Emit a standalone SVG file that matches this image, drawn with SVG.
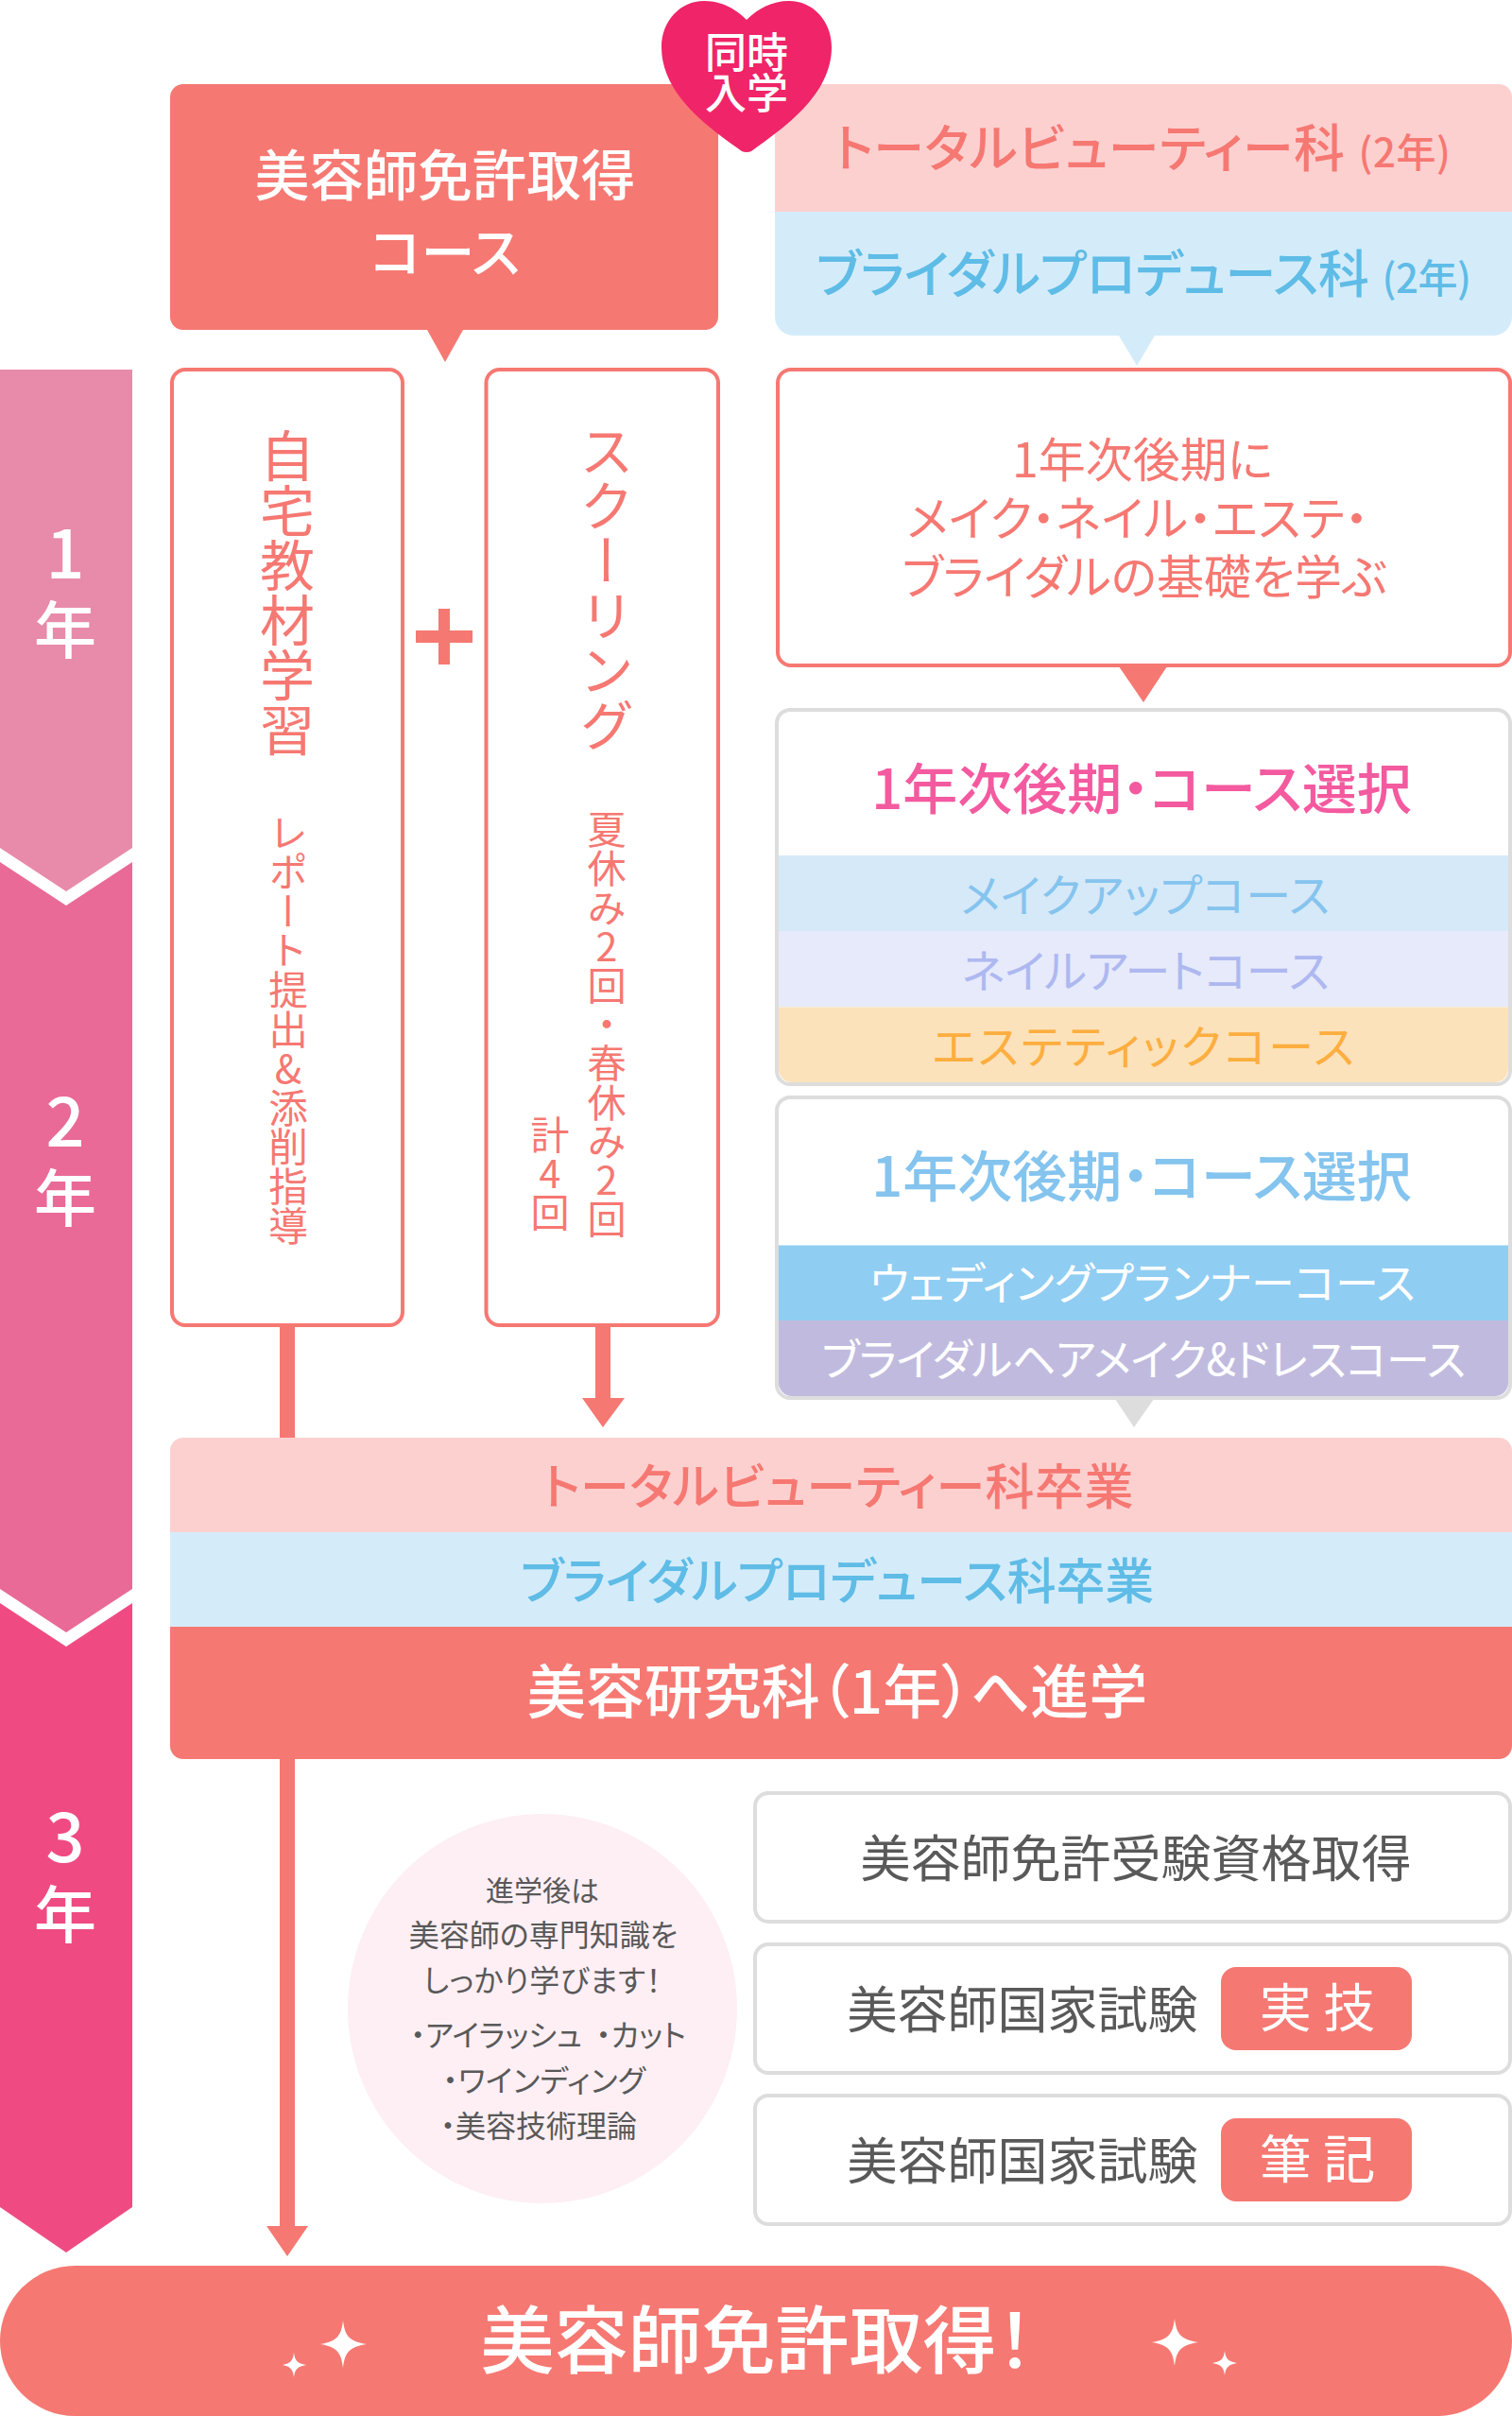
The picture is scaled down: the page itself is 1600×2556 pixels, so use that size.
<svg xmlns="http://www.w3.org/2000/svg" width="1600" height="2556" viewBox="0 0 1600 2556">
<style>
text{font-family:"Noto Sans CJK JP","Noto Sans",sans-serif;font-feature-settings:"palt";text-anchor:middle}
.m{font-weight:500}
.r{fill:#f67872}.w{fill:#fff}.b{fill:#5fbce6}.g{fill:#595959}
.red{fill:#f67872}.pp{fill:#fdd0d0}.pb{fill:#d4ecfa}
.box{fill:#fff;stroke:#f67872;stroke-width:4}
.gbox{fill:#fff;stroke:#ddd;stroke-width:4}
.v{writing-mode:vertical-rl;text-orientation:upright;font-feature-settings:normal;text-anchor:start;fill:#f67872}
.y{font-size:66px;fill:#fff}
.d{font-size:72px;fill:#fff}
.s{font-size:32px;fill:#595959}
.e{font-size:53px;fill:#595959}
</style>
<g id="year-bands">
<polygon points="0,391 140,391 140,897 70,943 0,897" fill="#e88aaa"/>
<polygon points="0,912 70,958 140,912 140,1681 70,1727 0,1681" fill="#e96a96"/>
<polygon points="0,1696 70,1742 140,1696 140,2335 70,2383 0,2335" fill="#ef4b82"/>
<text class="d m" x="69" y="612">1</text><text class="y m" x="69" y="691">年</text>
<text class="d m" x="69" y="1213">2</text><text class="y m" x="69" y="1292">年</text>
<text class="d m" x="69" y="1970">3</text><text class="y m" x="69" y="2050">年</text>
</g>
<g id="connectors">
<rect x="296" y="1402" width="16" height="119" fill="#f67872"/>
<rect x="630" y="1402" width="16" height="78" fill="#f67872"/>
<polygon points="616,1479 661,1479 638,1510" fill="#f67872"/>
<rect x="296" y="1861" width="16" height="495" fill="#f67872"/>
<polygon points="282,2355 326,2355 304,2387" fill="#f67872"/>
<polygon points="452,349 490,349 471,383" fill="#f67872"/>
<polygon points="1184,355 1222,355 1203,387" fill="#d4ecfa"/>
<polygon points="1184,705 1235,705 1210,743" fill="#f67872"/>
<polygon points="1180,1480 1221,1480 1200,1510" fill="#ddd"/>
<rect x="440" y="667" width="60" height="13" fill="#f67872"/>
<rect x="464" y="644" width="12" height="59" fill="#f67872"/>
</g>
<g id="license-course">
<rect x="180" y="89" width="580" height="260" rx="14" class="red"/>
<text class="m w" x="471" y="207" font-size="57.500">美容師免許取得</text>
<text class="m w" x="471" y="288" font-size="57">コース</text>
</g>
<g id="departments">
<path d="M834,89H1586a14,14 0 0 1 14,14V224H820V103a14,14 0 0 1 14,-14Z" class="pp"/>
<path d="M820,224H1600V335a20,20 0 0 1 -20,20H840a20,20 0 0 1 -20,-20Z" class="pb"/>
<text class="m r" x="1209" y="177" font-size="54" letter-spacing="0.500">トータルビューティー科<tspan font-size="42" dx="14">(2年)</tspan></text>
<text class="m b" x="1210" y="310" font-size="54" letter-spacing="-0.500">ブライダルプロデュース科<tspan font-size="42" dx="14">(2年)</tspan></text>
</g>
<g id="heart">
<path d="M790,161Q787,161 785,160C750,135 700,100 700,50C700,22 720,1 745,1C763,1 778,9 790,21C802,9 817,1 835,1C860,1 880,22 880,50C880,100 830,135 795,160Q793,161 790,161Z" fill="#f02468"/>
<text class="m w" x="790" y="72" font-size="44">同時</text>
<text class="m w" x="790" y="115" font-size="44">入学</text>
</g>
<g id="home-study">
<rect x="182" y="391" width="244" height="1011" rx="14" class="box"/>
<text class="v" x="304" y="453" font-size="58">自宅教材学習</text>
<text class="v" x="305" y="860" font-size="41.600">レポート提出&amp;添削指導</text>
</g>
<g id="schooling">
<rect x="514.500" y="391" width="245.500" height="1011" rx="14" class="box"/>
<text class="v" x="642" y="448" font-size="58">スクーリング</text>
<text class="v" x="642" y="857" font-size="41.200">夏休み2回・春休み2回</text>
<text class="v" x="582" y="1180" font-size="41">計4回</text>
</g>
<g id="basics">
<rect x="823" y="391" width="775" height="313" rx="14" class="box"/>
<text class="r" x="1209" y="505" font-size="50">1年次後期に</text>
<text class="r" x="1204" y="567" font-size="50" letter-spacing="0.500">メイク・ネイル・エステ・</text>
<text class="r" x="1211" y="629" font-size="50">ブライダルの基礎を学ぶ</text>
</g>
<g id="course-select-a">
<rect x="822" y="751" width="776" height="396" rx="14" class="gbox"/>
<rect x="824" y="905" width="772" height="80" fill="#d6e9f8"/>
<rect x="824" y="985" width="772" height="80.500" fill="#e6eafa"/>
<path d="M824,1065.500H1596V1131a14,14 0 0 1 -14,14H838a14,14 0 0 1 -14,-14Z" fill="#fce2ba"/>
<text class="m" x="1208" y="856" font-size="58" fill="#f45a9f">1年次後期・コース選択</text>
<text x="1212" y="965" font-size="48" letter-spacing="0.500" fill="#85c4ee">メイクアップコース</text>
<text x="1212" y="1045" font-size="48" letter-spacing="-0.500" fill="#aeb8f0">ネイルアートコース</text>
<text x="1211" y="1125" font-size="48" letter-spacing="2.400" fill="#fdae3f">エステティックコース</text>
</g>
<g id="course-select-b">
<rect x="822" y="1161" width="776" height="318" rx="14" class="gbox"/>
<rect x="824" y="1317.500" width="772" height="79.500" fill="#90cdf2"/>
<path d="M824,1397H1596V1463a14,14 0 0 1 -14,14H838a14,14 0 0 1 -14,-14Z" fill="#c0bbde"/>
<text class="m" x="1208" y="1266" font-size="58" fill="#84c4ee">1年次後期・コース選択</text>
<text class="w" x="1209" y="1374" font-size="46">ウェディングプランナーコース</text>
<text class="w" x="1210" y="1455" font-size="46" letter-spacing="-0.500">ブライダルヘアメイク&amp;ドレスコース</text>
</g>
<g id="graduation">
<path d="M194,1521H1586a14,14 0 0 1 14,14V1621H180V1535a14,14 0 0 1 14,-14Z" class="pp"/>
<rect x="180" y="1621" width="1420" height="100" class="pb"/>
<path d="M180,1721H1600V1847a14,14 0 0 1 -14,14H194a14,14 0 0 1 -14,-14Z" class="red"/>
<text class="m r" x="887" y="1592" font-size="52" letter-spacing="0.500">トータルビューティー科卒業</text>
<text class="m b" x="886" y="1692" font-size="52" letter-spacing="-0.200">ブライダルプロデュース科卒業</text>
<text class="m w" x="886" y="1813" font-size="62">美容研究科（1年）へ進学</text>
</g>
<g id="note">
<circle cx="574" cy="2125" r="206" fill="#fdeff4"/>
<text class="s" x="574" y="2011" style="font-size:30px">進学後は</text>
<text class="s" x="575" y="2059">美容師の専門知識を</text>
<text class="s" x="574" y="2107" letter-spacing="0.500">しっかり学びます！</text>
<text class="s" x="580" y="2165" xml:space="preserve">・アイラッシュ  ・カット</text>
<text class="s" x="576" y="2213" letter-spacing="0.500">・ワインディング</text>
<text class="s" x="570" y="2261">・美容技術理論</text>
</g>
<g id="exam-qualification">
<rect x="799" y="1897" width="799" height="136" rx="14" class="gbox"/>
<text class="e" x="1202" y="1986">美容師免許受験資格取得</text>
</g>
<g id="exam-practical">
<rect x="799" y="2057" width="799" height="136" rx="14" class="gbox"/>
<text class="e" x="1082" y="2146">美容師国家試験</text>
<rect x="1292" y="2081" width="202" height="88" rx="16" class="red"/>
<text class="w" x="1394" y="2144" font-size="55" xml:space="preserve">実 技</text>
</g>
<g id="exam-written">
<rect x="799" y="2217" width="799" height="136" rx="14" class="gbox"/>
<text class="e" x="1082" y="2306">美容師国家試験</text>
<rect x="1292" y="2241" width="202" height="88" rx="16" class="red"/>
<text class="w" x="1394" y="2304" font-size="55" xml:space="preserve">筆 記</text>
</g>
<g id="goal">
<rect x="0" y="2397" width="1600" height="159" rx="79.500" class="red"/>
<text class="m w" x="801" y="2505" font-size="78">美容師免許取得！</text>
<path d="M363,2455C365,2472 370,2477 388,2480C370,2483 365,2488 363,2505C361,2488 356,2483 339,2480C356,2477 361,2472 363,2455Z" fill="#fff"/>
<path d="M311,2489C312,2498 315,2500 324,2502C315,2504 312,2506 311,2515C310,2506 307,2504 299,2502C307,2500 310,2498 311,2489Z" fill="#fff"/>
<path d="M1243,2453C1245,2470 1250,2475 1268,2478C1250,2481 1245,2486 1243,2503C1241,2486 1236,2481 1219,2478C1236,2475 1241,2470 1243,2453Z" fill="#fff"/>
<path d="M1296,2487C1297,2496 1300,2498 1309,2500C1300,2502 1297,2504 1296,2513C1295,2504 1292,2502 1283,2500C1292,2498 1295,2496 1296,2487Z" fill="#fff"/>
</g>
</svg>
